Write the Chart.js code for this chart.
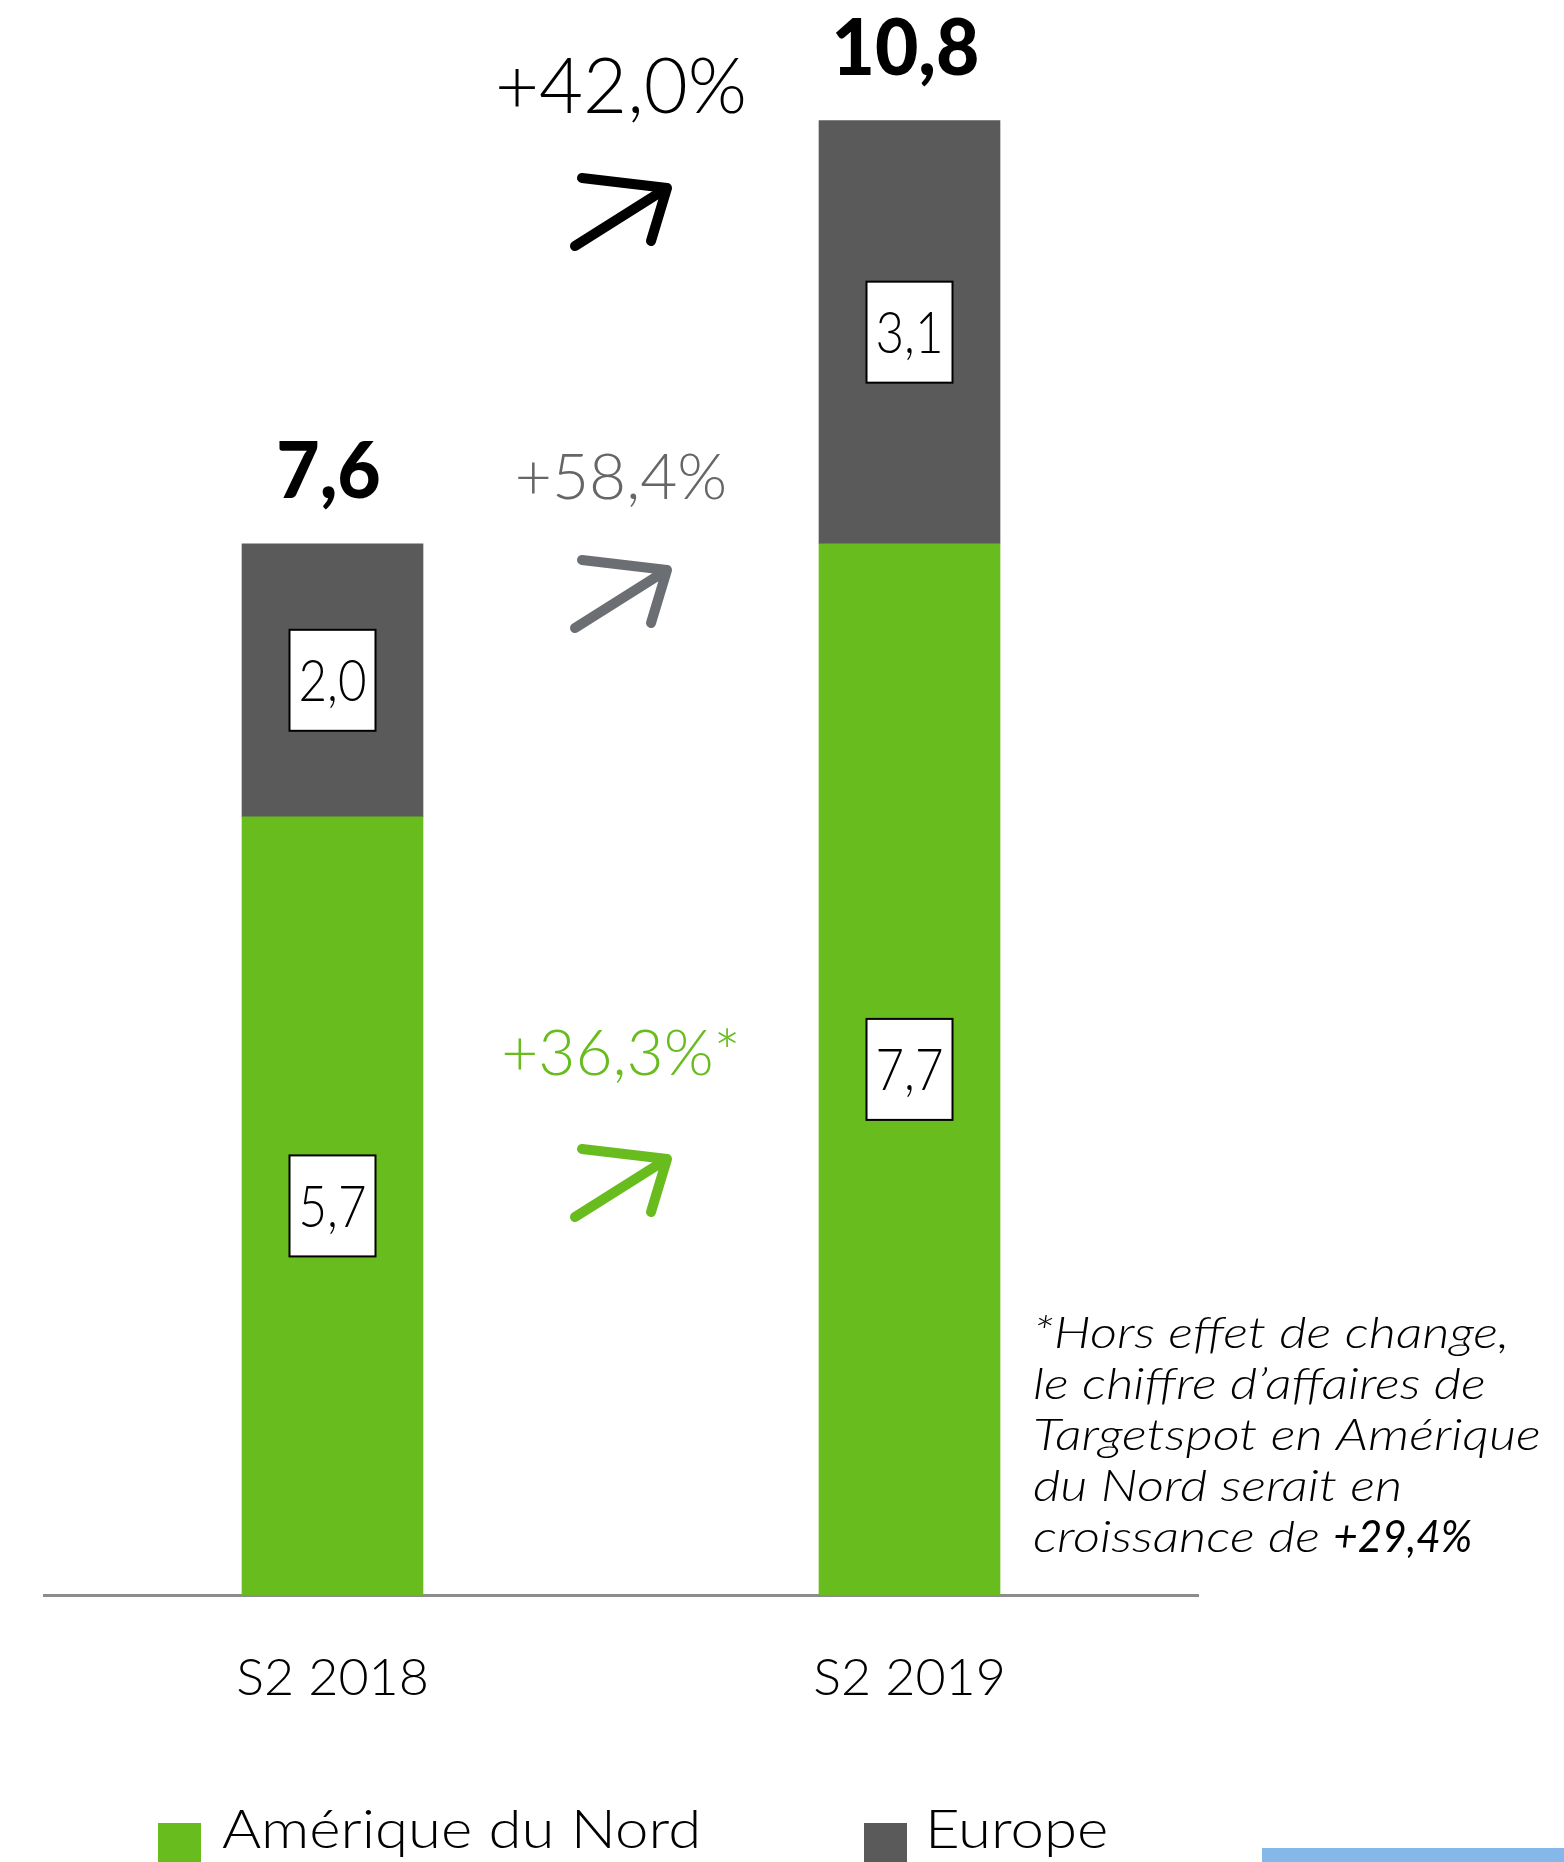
<!DOCTYPE html>
<html><head><meta charset="utf-8">
<script src="https://cdn.jsdelivr.net/npm/chart.js@4.4.1/dist/chart.umd.min.js"></script>
<style>html,body{margin:0;padding:0;background:#fff}#wrap{width:1564px;height:1862px;position:relative}</style>
</head><body><div id="wrap"><canvas id="c" width="1564" height="1862"></canvas></div>
<script>
const periods = ['S2 2018', 'S2 2019']
const northAmerica = [5.7, 7.7]
const europe = [2.0, 3.1]
const totals = [7.6, 10.8]
const growthLabels = ['+42,0%', '+58,4%', '+36,3%*']
const seriesNames = ['Amérique du Nord', 'Europe']
const footnote = ['*Hors effet de change,', 'le chiffre d’affaires de', 'Targetspot en Amérique', 'du Nord serait en', 'croissance de']
const footnoteFigure = '+29,4%'

const GREEN = '#68bc1e', GREY = '#5a5a5a', ARROW_GREY = '#6b6e73'
const FONT = 'Lato'
const fmt = v => v.toFixed(1).replace('.', ',')

// draw text, optionally stretched horizontally (sx) to get closer to the wide original face
function text(ctx, s, x, y, font, color, align, sx){
  ctx.save()
  ctx.font = font
  ctx.fillStyle = color
  ctx.textAlign = align || 'left'
  ctx.textBaseline = 'alphabetic'
  ctx.translate(x, y)
  ctx.scale(sx || 1, 1)
  ctx.fillText(s, 0, 0)
  ctx.restore()
}

function arrow(ctx, cx, tipY, color){
  ctx.save()
  ctx.strokeStyle = color
  ctx.lineWidth = 10
  ctx.lineCap = 'round'
  ctx.lineJoin = 'round'
  ctx.beginPath()
  ctx.moveTo(cx - 46, tipY + 58)
  ctx.lineTo(cx + 46, tipY)
  ctx.moveTo(cx - 39, tipY - 10)
  ctx.lineTo(cx + 46, tipY)
  ctx.lineTo(cx + 30, tipY + 53)
  ctx.stroke()
  ctx.restore()
}

const annotations = {
  id: 'annotations',
  afterDatasetsDraw(chart){
    const ctx = chart.ctx
    const metas = [chart.getDatasetMeta(0), chart.getDatasetMeta(1)]
    // value boxes centred in each segment
    const boxFont = `300 58px ${FONT}`, boxSx = 0.85
    metas.forEach((meta, di) => {
      meta.data.forEach((el, i) => {
        const s = fmt(chart.data.datasets[di].data[i])
        const cy = (el.y + el.base) / 2
        ctx.font = boxFont
        const w = ctx.measureText(s).width * boxSx + 18, h = 101
        ctx.fillStyle = '#fff'
        ctx.fillRect(el.x - w / 2, cy - h / 2, w, h)
        ctx.strokeStyle = '#000'
        ctx.lineWidth = 2
        ctx.strokeRect(el.x - w / 2, cy - h / 2, w, h)
        text(ctx, s, el.x, cy + 21, boxFont, '#000', 'center', boxSx)
      })
    })
    // totals on top of the stacks
    metas[1].data.forEach((el, i) => {
      text(ctx, fmt(totals[i]), el.x - 4, el.y - 46, `900 78px ${FONT}`, '#000', 'center', 0.96)
    })
    // growth labels between bars
    const cx = (metas[0].data[0].x + metas[0].data[1].x) / 2
    const rows = [[113, 188, '#000', '#000', 76], [499, 570, ARROW_GREY, '#666', 64], [1075, 1159, GREEN, GREEN, 64]]
    rows.forEach(([base, tip, arrowColor, textColor, size], i) => {
      text(ctx, growthLabels[i], cx, base, `300 ${size}px ${FONT}`, textColor, 'center')
      arrow(ctx, cx, tip, arrowColor)
    })
    // footnote
    const fnFont = `italic 300 44px ${FONT}`, fnSx = 1.2
    footnote.forEach((line, i) => {
      text(ctx, line, 1033, 1348 + i * 51, fnFont, '#000', 'left', fnSx)
    })
    ctx.font = fnFont
    const lw = ctx.measureText(footnote[4] + ' ').width * fnSx
    text(ctx, footnoteFigure, 1033 + lw, 1348 + 4 * 51, `italic 400 44px ${FONT}`, '#000', 'left', 0.96)
    // legend
    const leg = [[158, 222], [864, 925]]
    chart.data.datasets.forEach((ds, i) => {
      ctx.fillStyle = ds.backgroundColor
      ctx.fillRect(leg[i][0], 1823, 43, 40)
      text(ctx, ds.label, leg[i][1], 1848, `300 54px ${FONT}`, '#000', 'left', 1.11)
    })
    ctx.fillStyle = '#85b7e8'
    ctx.fillRect(1262, 1848, 302, 14)
  }
}

new Chart(document.getElementById('c'), {
  type: 'bar',
  data: {
    labels: periods,
    datasets: [
      { label: seriesNames[0], data: northAmerica, backgroundColor: GREEN, barThickness: 181 },
      { label: seriesNames[1], data: europe, backgroundColor: GREY, barThickness: 181 }
    ]
  },
  options: {
    responsive: false,
    animation: false,
    devicePixelRatio: 1,
    layout: { padding: { left: 44, right: 366, top: 25, bottom: 0 } },
    plugins: { legend: { display: false }, tooltip: { enabled: false } },
    scales: {
      x: {
        stacked: true,
        grid: { display: false, drawTicks: false },
        border: { display: true, color: '#8c8c8c', width: 3 },
        ticks: { color: '#000', font: { family: FONT, size: 52, weight: '300' }, padding: 52 },
        afterFit: s => { s.height = 267 }
      },
      y: { stacked: true, display: false, min: 0, max: 11.5 }
    }
  },
  plugins: [annotations]
})
</script>
</body></html>
